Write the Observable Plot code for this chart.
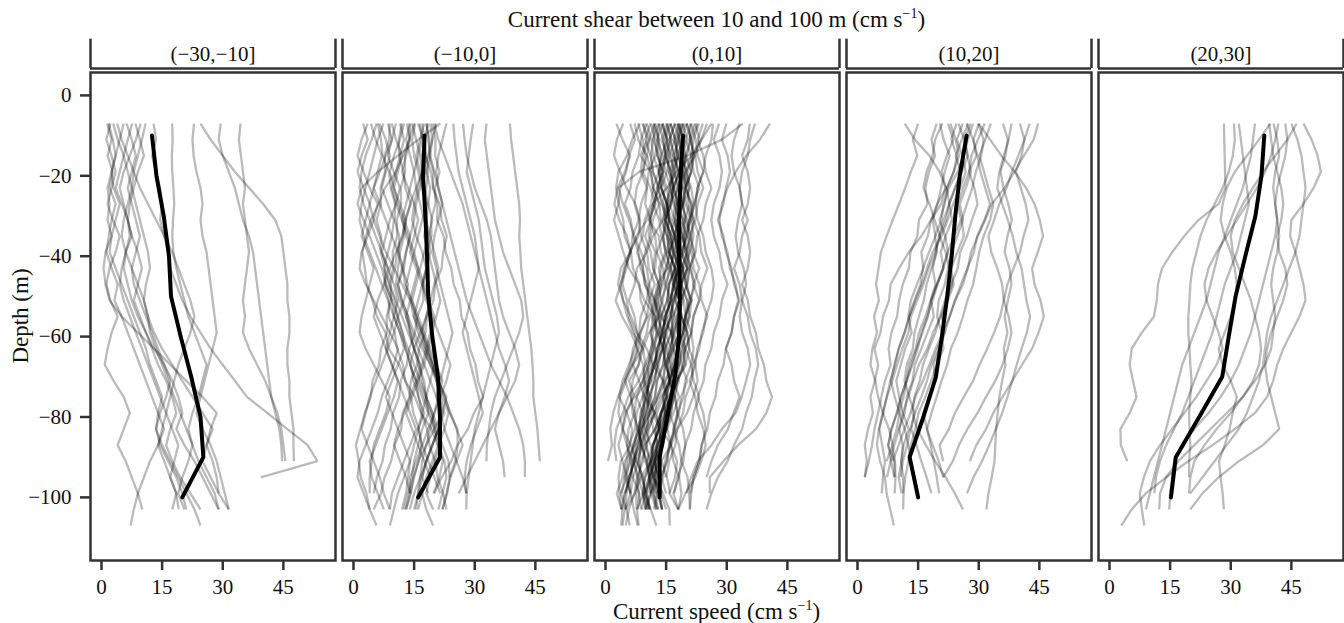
<!DOCTYPE html>
<html><head><meta charset="utf-8">
<script src="https://cdn.jsdelivr.net/npm/d3@7"></script>
<script src="https://cdn.jsdelivr.net/npm/@observablehq/plot@0.6"></script>
<style>
html,body{margin:0;padding:0;background:#fff;}
#wrap{position:relative;width:1344px;height:623px;font-family:"Liberation Serif","Times New Roman",serif;color:#111;overflow:hidden;}
#chart{position:absolute;left:0;top:0;}
.lab{position:absolute;font-size:23px;line-height:23px;white-space:nowrap;}
.sup{font-size:14px;position:relative;top:-9px;}
#title{left:90px;width:1253px;text-align:center;top:7.7px;}
#xlab{left:90px;width:1253px;text-align:center;top:599.7px;}
#ylab{left:20px;top:316px;transform:translate(-50%,-50%) rotate(-90deg);}
</style></head>
<body>
<div id="wrap">
<div id="chart"></div>
<div class="lab" id="title">Current shear between 10 and 100 m (cm s<span class="sup">−1</span>)</div>
<div class="lab" id="xlab">Current speed (cm s<span class="sup">−1</span>)</div>
<div class="lab" id="ylab">Depth (m)</div>
</div>
<script>
// Facet categories (current shear bins)
const shearBins = ["(−30,−10]", "(−10,0]", "(0,10]", "(10,20]", "(20,30]"];
// Depth levels of the individual profiles (m)
const depthLevels = [-7,-11,-15,-19,-23,-27,-31,-35,-39,-43,-47,-51,-55,-59,-63,-67,-71,-75,-79,-83,-87,-91,-95,-99,-103,-107];
// Depth levels of the mean profiles (m)
const meanDepths = [-10,-20,-30,-40,-50,-60,-70,-80,-90,-100];
// Tick values
const xTicks = [0, 15, 30, 45];
const yTicks = [-100, -80, -60, -40, -20, 0];

// Mean profiles (cm/s)
const mean_m30_m10 = [12.5,13.6,15.4,16.7,17.2,19.6,22.2,24.5,25.2,20.0];
const mean_m10_0   = [17.6,17.2,17.8,18.2,18.5,19.5,20.9,21.4,21.4,16.0];
const mean_0_10    = [19.2,18.6,18.2,18.2,18.4,18.2,17.2,15.3,13.4,13.4];
const mean_10_20   = [27.0,25.3,24.2,23.3,22.2,20.9,19.4,16.3,12.9,15.0];
const mean_20_30   = [38.3,37.6,36.1,33.6,31.2,29.5,27.9,22.2,16.4,15.2];

// Individual profiles (cm/s, from -7 m downward every 4 m)
const prof_m30_m10 = [
[1.4,2.5,1.5,2.8,2.0,3.5,2.5,1.8,1.2,2.5,4.0,3.2,5.0,6.5,8.0,9.5,11,12.5,14,15.5,14,12,10.5,9,8,7.2],
[2.2,1.2,2.5,3.5,2.5,1.5,2.8,4.5,3.5,2.0,1.2,2.2,4.0,2.5,1.5,0.8,3,5.5,7,5.5,4,6,7.5,9,10.1],
[2.9,4,5.5,4.5,3.5,5,6.5,7.5,6,5,4.5,5.5,7,8.5,10,11.5,13,14.5,16,15,14,15.5,17,18.5,17.5],
[3.9,5,6.5,8,9.5,11.5,13.5,15.5,17.5,19,20.5,22,23,22,20.5,19,18,17,16,17.5,19,18,17,18.5,19.1],
[5.5,4.5,3.5,2.5,3,4.5,3.5,2.5,2,3.5,5,6.5,8,9.5,11,12,13.5,15,14,13.5,15,17,19,21,23,24.5],
[6.2,7.5,8.5,7.5,6.5,7.5,8.5,9.5,8.5,7.5,8,9.5,11,12.5,14,15.5,17,16,14.5,13.5,14.5,16.5,18.5,20,21],
[7.6,6.5,5.5,6.5,7.5,6.5,5.5,5,6,7.5,9,10.5,11.5,12,13.5,15,16.5,18,19.5,21,22.5,21.5,20,19,20.5],
[8.4,9.5,10.5,9,8,7,6.5,7.5,9,10,9,8,9.5,11,12.5,14,16,17.5,18.5,17,16,17.5,19.5,22,24.5],
[9.7,8.5,7,5.5,4.5,5.5,6.5,7,6,5.5,6.5,7.5,9,11,13,15.5,17.5,19,20,18.5,20.5,23,25,27,29],
[10.9,10,9,8,7.5,8.5,9.5,10.5,11.5,12,11,10.5,11.5,13,15,17.5,20,22.5,25,27.5,26,25,27,29,31.5],
[12.9,13.5,12.5,13.5,14.5,15,14.5,15.5,16.5,17,18.5,20,22,24.5,27,30,33,36,41,46,51,53.4,39.4],
[17.5,17.6,17.4,17.5,17.8,18,17.7,17.5,17.8,18.5,19.5,20.5,21.5,23,24.5,26,25,24,22.5,21.5,22.5,24,26,28,29],
[22.9,22.5,22.8,23.5,24.5,25,24.5,25,26,26.5,27,27.5,28,28.5,27.5,26.5,25.5,24.5,23.5,25,27,28.5,29.5,30.5,31.5],
[24.5,27,30,33,36.5,40,43,44.5,45,45.5,46,46,46.5,46.5,46,46,46.5,46.5,47,47.5,47.5,47.6],
[29.5,29,30,31.5,33,34,35,36.5,37.5,38,38.5,39,39.5,40,40.5,41,41.5,42,43,44,44.5,44.7],
[34.4,34,34.5,35,35.5,35,35.5,36,36.5,36,35.5,35,35.5,35,36.5,38.5,40.5,42,43.5,44.5,45,45.5],
[1.8,2.8,3.5,2.5,1.5,2,1.5,2.5,1,0.5,1,2,5,9,13,17,21,25,28.5,27,26,27.5,28.5,29]
];
const prof_m10_0 = [
[2.4,3.5,2,1,2.5,4,3,2,3.5,5,4,3,2,1.5,3,5,7,9,8,6.5,5,4.5,4,4],
[3.5,2,1,2.5,4,6,5,3.5,2,1.5,3,5,7,9,11,10,8.5,7,6,4.5,3,1.5,1,2.5,4,5.7],
[4.3,5.5,7,6,5,6.5,8,9.5,11,12,13.5,12.5,11,10,8.5,7,5.5,4,3,2,3.5,5,6.5,7.5,9],
[5.7,4.5,3,2,1.5,2.5,4,5.5,7,8.5,7.5,6,5,6.5,8,9.5,11,10,8.5,7,5.5,4,4.5,6,7.5],
[6.4,8,9,8,7,8.5,10,9.5,8.5,7.5,9,10.5,12,13.5,15,16.5,15.5,14,12.5,11,10,11.5,13,14],
[7.4,6,5,4,3,2,1.5,2.5,4,5.5,7,8.5,10,11.5,12.5,11,9.5,8,9.5,11,12.5,14,12.5,11,10,9],
[8.5,9.5,8,6.5,5,4,5,6.5,8,10,12,14,15.5,17,18.5,17.5,16,14.5,13,14.5,16,17.5,19,18,19.7],
[9.5,10.5,12,11,10,11.5,13,12,10.5,9,8,9.5,11,12,13.5,15,16.5,18,19.5,21,19.5,18,16.5,15,13.9],
[10.5,9.5,8.5,10,11.5,10.5,9,8,7,8.5,10,11,10,9,8,9.5,11,12.5,14,15.5,14,12.5,11,9.5,9],
[11.5,12.5,11.5,10.5,9.5,10.5,12,13.5,15,16,15,14,13,14.5,16,17.5,19,20.5,22,21,19.5,18,17,18.5],
[12.5,11.5,10,9,10,11,12.5,14,13,12,11,12,13.5,15,17,19,21,23,22,20,18,16,15,14,13],
[13.2,14,13,12,13.5,15,16,15,14,15.5,17,18.5,20,19,18,17,16,17.5,19,20.5,22,23.5,23.8],
[13.9,13,14,15,14,13,12,13,14.5,16,17.5,19,18,16.5,15,14,15.5,17,18.5,20,21.5,20,18.5,17,16],
[14.5,15.5,16.5,17,16,15,14.5,15.5,17,18,17,16,15,16,17.5,19,20.5,22,23.5,22.5,21,19.5,18,17,18,19.7],
[15.3,14.5,15,16,17,18,17,16,15,14,13,14.5,16,17.5,19,20.5,22,21,20,19,18,17,16.5,16,15.5],
[16.4,17,16,15,15.5,16.5,17.5,18.5,19,18,17,18,19.5,21,22.5,24,23,21.5,20,18.5,17,15.5,14,13.9],
[17,17.5,18,18.5,18,17.5,18,19,20,21,20,19,18,17,18,19.5,21,22.5,24,25.5,27,25.5,24,23,22],
[17.5,16.5,15.5,16.5,17.5,18.5,19.5,18.5,17.5,16.5,15.5,14.5,15.5,17,18.5,20,19,18,17,16,17,18.5,20,21.5],
[18.1,18.5,19,20,21,22,21,20,19.5,20.5,21.5,22.5,23.5,24.5,23.5,22.5,21.5,20.5,21.5,22.5,24,25.5,27,27.9],
[18.5,17.5,17,18,19,18.5,18,17.5,18.5,19.5,20.5,21.5,20.5,19.5,18.5,19.5,20.5,21.5,22.5,21,19.5,18,17,16,15],
[19,19.5,18.5,17,15.5,14,13,12.5,11.5,11,10.5,11.5,13,14,15,16,17.5,18,18.5,17,16,15,14.5,13.5,12.5],
[20.5,19.5,19,18,16.5,15.5,15,14,13,12.5,11,12,13.5,14,15,16.5,17,18,19.5,20,21,22.5,23,22,21],
[21.5,16,11,6,2,1,2.5,4,5.5,7,8,9.5,10,11.5,13,14,15.5,16,17.5,16,15,14,13.5,13,12],
[24.7,25,25.5,26,27,28,29,30,30.5,31,30,29,28,27,28,29,30,31,32,30.5,29,28,27.5,27.9],
[27.1,27.5,28,29,30,31.5,33,34,34.5,35,35.5,36,37,38.5,40,41,40,38,36,34,32,30,28,26],
[29.6,29,28.5,28,29,30,31,31.5,32,32.5,33.5,34.5,35.5,36,35,34,33,32,31,30,29.5,29,28.5,28,27.9],
[32.9,32.5,33,33.5,34,34.5,35,36,37,38.5,40,41.5,42,41,39.5,38,36.5,35,34,33.5,33,32.9],
[38.7,39,39.5,40,40.5,41,41.2,41,41.3,41.5,42,42.5,43,43.5,44,44.3,44.5,44.5,45,45.5,45.8,46.1],
[23,22,21,20.5,21,22,23,24,25,26,27,28,29.5,31,32.5,34,36,38,39.5,41,42,42.4,42.4],
[20,21,22.5,24,25.5,27,28,29,30,31,32,33,34,35,36,37.5,38.5,37.4,36,35,36,37,37.4],
[15,13.8,12.2,10.5,7.8,6.2,4.3,3.1,2.2,2.8,3.3,4.7,5.8,7.9,8.7,11.3,12.8,15.2,16.7,19.3,20.8,22.1,21.2,19.8],
[12,11.2,11.3,12.4,12.8,14.2,12.7,12.2,10.8,10.3,9.2,9.3,8.2,8.3,6.8,6.3,4.7,4.3,2.8,1.7,0.6,1.3,1.8,3.2,4],
[16,17.3,17.8,19.2,19.7,21.3,21.8,23.1,22.2,21.8,20.2,19.8,18.2,17.8,16.2,15.8,14.2,13.8,12.2,11.8,10.2,9.3,7.7,6.8,5],
[18,18.8,18.7,19.8,19.7,20.8,20.7,22.3,22.8,24.2,24.8,26.3,26.7,28.2,28.8,30.2,30.8,32.1,29.8,28.3,25.7,24.2,21.8,20],
[19.5,20.3,20.2,21.3,20.2,20.3,19.2,19.3,18.2,18.3,17.2,17.3,15.8,15.2,13.8,13.2,11.7,11.3,9.8,9.2,7.8,7.2,5.8,5],
[14,13.8,12.7,12.8,11.7,11.8,10.7,10.8,9.7,9.8,8.7,10.2,10.8,12.2,12.8,14.2,14.8,16.2,16.8,18.2,18.8,20.2,20.8,22.2,23],
[9,8.8,7.7,7.8,6.7,6.8,5.7,6.8,6.7,7.8,7.7,8.8,8.7,10.2,10.8,12.2,12.8,14.2,14.8,16.2,16.8,16.2,14.8,14.2,13],
[6,6.8,7.2,8.8,9.2,10.3,10.2,11.3,11.2,12.3,12.7,14.2,14.8,16.7,17.8,19.7,20.8,22.7,23.8,25.7,25.8,25.2,23.8,23.2,22]
];
const prof_0_10 = [
[2.7,4.2,6.1,4.8,3.0,2.2,3.4,5.3,6.2,4.6,3.8,2.5,4.1,6.3,7.9,6.6,4.7,3.1,1.9,1.2,1.6,0.6],
[4.4,2.8,2.1,3.6,5.2,7.4,8.6,8.1,5.9,5.2,3.7,4.3,5.4,6.8,9.3,9.9,8.2,5.6,4.3,2.7,2.2,2.7],
[8.5,6.6,5.3,3.2,2.6,3.3,4.4,4.7,6.3,6.8,8.4,8.7,10.2,8.6,7.3,5.8,4.2,3.4,5.3,6.6,6.1,3.8,3.2,3.5,3.9],
[6.1,7.3,5.8,5.1,3.7,3.2,2.1,3.3,4.4,5.8,8.2,9.6,12.3,12.7,14.2,11.8,10.3,7.6,7.2,5.7,5.3,6.2,6.8,8.3,8.0],
[7.2,8.1,10.3,9.2,11.1,12.4,10.8,13.2,13.7,15.3,12.8,12.2,13.3,10.8,9.3,8.2,5.8,7.1,4.8,4.2,5.3,6.8,8.2,7.6,7.7],
[26.2,23.8,21.3,17.6,15.2,11.8,10.2,7.7,6.1,3.8,3.1,4.4,6.3,7.8,9.2,6.8,5.1,3.6,3.2,4.3,6.2,7.7,9.3,9.8,10.6],
[8.1,9.2,9.8,9.3,7.7,7.2,8.3,8.8,10.3,10.7,12.2,10.8,10.3,8.7,8.2,6.8,8.3,9.7,12.2,10.6,9.3,7.8,9.2,9.8,11.2,12.6],
[9.2,10.3,8.7,11.2,11.8,13.3,11.7,11.2,9.8,9.2,9.7,11.3,11.8,13.2,14.3,14.8,16.2,13.7,12.2,9.8,8.3,6.7,6.2,4.8,4.2,3.9],
[10.1,8.8,8.2,6.7,6.2,4.8,6.3,6.8,8.2,8.7,10.3,10.8,12.3,12.6,12.2,10.7,9.3,6.8,5.2,4.3,3.2,4.2,5.3,6.1],
[11.2,12.3,12.8,14.3,12.7,12.2,10.8,12.3,12.7,14.2,14.8,16.3,14.7,14.2,12.8,12.3,10.7,10.2,8.8,8.3,8.8,10.2,10.8,12.3,13.0],
[12.1,10.8,10.3,11.2,11.8,13.3,13.7,15.2,15.8,17.2,15.7,15.3,13.8,13.2,11.7,11.3,9.8,9.2,7.7,7.3,5.8,5.2,4.8,6.2],
[12.3,13.2,13.7,13.2,11.8,11.3,9.7,9.2,7.8,9.3,9.8,12.2,13.7,16.3,17.8,17.2,14.8,13.2,10.8,9.2,7.8,7.2,5.8,5.2,4.9],
[13.1,11.8,11.2,11.7,13.2,13.8,15.3,15.7,17.2,17.8,16.8,16.2,14.7,14.3,12.8,12.2,10.7,10.3,12.2,13.8,16.2,17.7,17.2,15.8,18.0],
[13.2,14.3,14.8,16.2,16.7,16.3,14.8,14.2,12.7,12.3,10.8,10.2,8.7,8.3,6.8,6.2,4.8,6.3,6.7,8.2,8.8,10.3,11.8,14.2,15.8,15.9],
[14.1,15.3,13.8,13.2,13.8,15.2,15.7,17.3,17.8,19.2,19.8,21.3,19.7,19.2,17.7,17.3,15.8,15.2,13.7,13.2,11.8,11.2,9.7,9.3,10.6],
[14.2,12.8,12.3,10.7,10.2,8.8,8.2,6.7,6.3,4.8,4.2,5.3,5.8,7.2,7.8,9.3,9.7,11.2,11.8,13.3,13.7,13.2,11.8,12.6],
[15.1,16.2,16.8,18.3,16.8,16.2,14.8,16.3,16.7,18.2,18.8,18.2,16.7,16.3,14.8,14.2,12.7,12.3,10.8,10.2,8.7,8.3,8.8,10.2,11.0],
[15.2,13.8,15.3,15.7,17.2,17.8,19.3,19.7,19.2,17.8,17.2,15.8,17.2,17.7,19.2,19.8,17.7,16.3,13.8,12.2,9.7,9.3,7.8,7.2,5.8,5.0],
[16.1,17.2,15.8,15.2,13.8,15.3,15.8,17.2,17.7,17.2,15.8,15.3,13.7,13.2,14.3,14.8,16.2,16.7,16.2,14.8,14.3,12.7,12.2,13.3,14.0],
[16.2,14.8,16.3,16.8,18.2,18.7,20.3,20.8,22.1,20.8,20.2,18.7,18.3,16.7,16.2,14.8,14.3,12.8,12.2,10.7,10.3,8.8,8.2,9.2,10.0],
[17.1,18.2,18.8,18.3,16.8,16.2,14.8,14.3,14.8,16.2,16.7,18.3,18.8,20.2,18.7,18.2,16.8,16.2,14.7,14.3,12.8,12.2,10.8,10.0],
[17.2,15.8,15.3,13.7,13.2,11.8,13.3,13.8,15.2,15.7,17.2,15.8,15.2,13.7,13.3,11.8,11.2,9.7,9.3,7.8,7.2,5.7,5.3,3.8,5.2,6.0],
[18.1,19.2,19.8,21.2,19.8,19.2,17.7,17.3,15.8,17.2,17.7,19.3,19.8,21.2,21.8,21.2,19.7,19.3,17.8,17.2,15.7,15.3,13.8,13.2,14.0],
[18.2,16.8,18.3,18.7,20.2,20.8,19.7,19.2,17.8,17.2,15.7,15.3,16.2,16.8,18.3,18.8,20.2,18.7,18.2,16.8,18.2,18.8,20.3,20.7,20.9],
[17.8,18.3,16.7,18.2,18.8,17.7,17.2,18.3,18.8,20.2,18.7,18.2,18.8,20.3,20.7,19.8,17.7,16.2,13.8,12.3,9.8,11.2,11.8,13.3,14.0],
[19.1,20.2,18.8,18.2,16.7,18.3,18.8,20.2,18.7,18.2,16.8,16.2,14.8,16.3,16.8,18.2,16.7,16.3,14.8,14.2,12.7,12.3,13.2,14.0],
[19.2,17.8,17.3,15.7,16.8,17.7,19.2,17.8,17.3,15.7,15.2,13.8,13.2,11.7,11.3,9.8,9.2,7.7,9.2,9.8,11.2,11.8,13.3,13.7,15.0],
[20.1,21.2,21.8,21.2,19.8,19.2,17.8,19.2,19.8,21.3,21.7,23.2,21.8,21.2,19.7,19.3,17.8,17.2,15.7,15.3,16.2,16.8,18.2,18.8,18.0],
[20.2,18.8,18.2,16.7,16.3,14.8,14.2,15.3,15.7,17.2,17.8,16.7,16.2,14.8,14.2,12.7,12.3,10.8,10.2,8.7,8.3,6.8,6.2,4.7,4.0],
[21.1,19.8,21.2,21.8,23.2,21.8,21.2,19.7,19.3,17.8,17.2,18.3,18.8,20.2,20.7,22.2,22.8,21.7,20.2,17.8,16.2,13.8,13.2,11.8,12.6],
[21.2,22.3,22.8,24.2,22.8,22.2,20.8,20.2,21.3,21.8,23.2,23.8,25.2,23.8,23.2,21.7,21.3,19.8,19.2,17.7,17.3,15.8,15.0],
[22.1,20.8,20.2,18.7,18.3,19.2,19.8,21.2,21.7,23.2,21.8,21.2,19.7,19.3,17.8,17.2,15.7,17.2,17.8,19.2,19.8,18.7,18.2,16.8,18.0],
[22.2,23.3,21.8,21.2,19.8,21.2,21.8,23.2,23.7,25.2,23.8,23.2,21.7,21.3,19.8,21.2,21.8,23.2,21.8,21.2,19.7,19.3,17.8,17.0],
[23.1,21.8,21.2,19.8,19.2,17.7,17.3,15.8,15.2,13.7,13.3,11.8,13.2,13.8,15.3,15.7,17.2,15.8,15.2,13.7,13.3,11.8,11.2,9.7,9.0],
[24.1,22.8,24.2,24.8,26.2,24.8,24.2,22.7,22.3,20.8,20.2,18.7,18.3,16.8,16.2,14.7,14.3,15.2,15.8,17.2,15.8,15.2,13.7,13.0],
[25.1,23.7,22.2,19.8,18.2,15.7,14.2,11.8,10.2,7.8,7.2,5.8,7.2,7.8,10.2,11.8,14.2,12.8,11.2,8.8,7.2,4.8,4.2,2.8,4.0],
[26.6,26.2,24.8,24.2,22.7,22.3,22.8,24.2,24.8,26.2,26.8,26.2,24.8,24.2,22.7,22.3,20.8,22.2,22.8,24.2,24.8,23.7,22.2,19.8,18.0],
[28.1,26.8,28.2,28.8,28.2,26.8,26.2,26.8,28.2,28.8,30.2,28.8,28.2,26.8,26.2,24.7,24.3,22.8,24.2,24.8,23.8,23.2,21.8,21.0],
[29.9,28.8,30.2,30.8,29.8,29.2,27.8,29.2,29.8,31.2,31.8,33.2,31.8,31.2,29.8,31.2,31.8,33.2,31.7,30.3,27.8,26.2,25.0],
[33.2,31.8,31.2,31.8,33.2,33.8,32.8,32.2,32.8,34.2,34.8,33.8,33.2,33.8,35.2,35.8,34.8,33.7,32.2,28.8,26.2,22.8,21.2,20.0],
[35.7,35.2,33.8,35.2,35.8,35.2,33.8,35.2,35.8,35.2,33.8,35.2,35.8,37.2,37.8,39.2,39.8,41.2,39.8,37.2,32.8,29.2,25.8,25.8],
[37.0,35.8,35.2,33.8,33.2,33.8,35.2,33.8,33.2,31.8,33.2,33.8,35.2,35.8,37.2,37.8,36.8,36.2,34.8,33.8,31.8,30.2,27.8,26.2,25.0],
[40.7,38.2,34.8,32.2,30.2,28.8,28.2,28.8,30.2,30.8,32.2,32.8,31.8,31.2,29.8,29.2,27.8,27.2,25.8,25.2,23.8,23.2,21.8,21.2,20.9],
[34.0,28.8,20.2,8.3,3.2,4.3,5.8,7.2,8.8,10.2,10.8,12.2,10.8,10.2,8.8,8.2,6.7,6.3,7.2,7.8,9.2,9.8,11.2,11.8,13.0],
[10.2,11.3,11.8,13.2,13.8,15.2,15.8,17.2,17.8,19.2,17.8,17.2,15.7,15.3,13.8,13.2,11.7,11.3,9.8,9.2,7.7,7.3,5.8,5.0],
[11.1,9.8,11.2,11.8,13.2,11.8,11.2,9.8,11.2,11.8,13.2,13.8,15.2,13.8,13.2,11.8,11.2,9.7,11.2,11.8,13.2,13.8,15.2,16.0],
[12.2,11.8,13.2,13.8,15.2,15.8,17.2,17.8,16.8,16.2,14.8,14.2,12.8,14.2,14.8,16.2,16.8,18.2,16.8,15.2,12.8,11.2,8.8,7.2,5.0],
[13.3,12.8,14.2,14.8,16.2,16.8,18.2,18.8,20.2,18.8,18.2,16.8,16.2,14.7,14.3,12.8,12.2,10.7,10.3,8.8,10.2,10.8,12.0],
[14.2,15.3,15.8,17.2,17.8,19.2,17.8,17.2,15.8,15.2,13.7,13.3,11.8,11.2,12.3,12.8,14.2,14.8,13.8,13.2,11.7,11.3,9.8,9.2,10.0],
[15.2,16.3,14.8,14.2,12.8,14.2,14.8,16.2,16.8,18.2,18.8,20.2,20.8,19.8,19.2,17.8,17.2,15.7,15.3,13.8,13.2,11.7,11.3,9.8,11.0],
[16.1,17.3,17.8,19.2,19.8,18.8,18.2,16.8,16.2,14.8,14.2,12.8,14.2,14.8,16.2,16.8,18.2,16.8,16.2,14.8,14.2,12.7,12.3,11.0],
[17.2,15.8,17.2,17.8,19.2,19.8,21.2,21.8,20.8,20.2,18.8,18.2,16.8,16.2,14.7,14.3,12.8,12.2,10.7,10.3,8.8,8.2,6.8,6.2,7.0,8.0],
[18.3,19.2,17.8,17.2,15.8,15.2,16.3,16.8,18.2,18.8,20.2,20.8,19.8,19.2,17.7,17.3,15.8,15.2,13.7,13.3,11.8,11.2,12.3,12.8,14.0],
[19.1,17.8,19.2,19.8,21.2,21.8,20.8,20.2,18.8,18.2,16.7,16.3,14.8,14.2,12.7,12.3,10.8,10.2,8.7,8.3,6.8,6.2,4.7,4.0],
[20.1,21.2,19.8,19.2,17.8,17.2,18.3,18.8,20.2,20.8,22.2,20.8,20.2,18.8,18.2,16.7,16.3,14.8,14.2,12.7,12.3,13.2,13.8,15.0],
[21.1,20.8,22.2,22.8,24.2,22.8,22.2,20.8,20.2,18.8,18.2,16.7,16.3,14.8,14.2,15.3,15.8,17.2,17.8,16.8,16.2,14.7,14.3,12.8,12.0],
[9.3,10.8,9.2,8.7,10.3,9.8,11.2,10.7,12.3,11.8,13.2,12.7,11.3,12.8,11.2,10.7,9.3,10.8,9.2,8.3,6.8,7.2,5.8,6.2,4.8,4.2],
[13.8,15.2,14.7,16.3,15.8,17.2,16.7,18.3,17.8,19.2,18.7,17.3,18.8,17.2,15.7,16.3,14.8,15.2,13.7,12.3,12.8,11.2,10.7,11.3],
[17.8,19.3,18.7,20.2,19.8,21.3,20.7,19.2,20.8,19.3,18.7,20.2,19.8,18.2,16.8,17.3,15.7,14.2,14.8,13.2,11.7,12.3,10.8,11.2,9.7],
[19.7,18.3,19.8,19.2,20.7,20.2,21.8,21.2,19.7,20.3,18.8,19.3,17.7,18.2,16.8,15.2,15.8,14.3,12.7,13.2,11.8,10.2,10.8,9.3,7.8,8.2],
[15.8,14.3,14.8,13.2,14.7,14.2,15.8,15.3,16.8,16.2,17.8,17.2,18.7,18.2,19.8,19.2,17.8,16.2,14.7,15.2,13.8,12.2,12.8,11.3,10.0],
[22.8,21.2,21.7,20.3,20.8,19.2,19.7,18.3,18.8,20.2,19.7,21.3,20.8,19.2,19.7,18.3,17.8,16.2,15.7,14.3,13.8,12.2,11.7,10.3,11.0],
[18.7,17.2,17.8,16.3,16.8,15.2,15.7,14.3,14.8,13.2,13.8,12.3,12.7,11.2,11.8,10.3,10.8,9.2,9.8,8.3,8.8,7.2,7.8,8.3,8.8],
[11.8,13.2,12.8,14.3,13.7,15.2,14.8,16.3,15.7,17.2,16.8,18.3,17.7,16.2,16.8,15.2,15.8,14.2,14.8,13.2,13.8,12.2,12.7,11.2,12.6]
];
const prof_10_20 = [
[11.7,14.2,17.8,20.3,21.8,20.7,18.2,15.8,12.7,10.3,8.2,7.8,6.3,5.7,4.2,5.1,4.3,3.2,3.8,2.6,1.8,2.3,1.8],
[15.0,13.7,14.8,13.2,11.8,10.3,8.7,7.2,5.8,5.2,4.6,5.3,4.1,4.8,3.7,3.2,4.4,5.1,6.3,7.8,8.7,7.2],
[19.6,18.3,19.2,17.7,16.8,17.3,15.2,14.8,13.1,12.7,11.2,10.3,9.8,8.4,7.7,8.2,6.8,5.9,5.1,4.2,3.6,2.8,1.8],
[20.4,21.3,22.8,21.6,20.7,19.8,18.6,19.3,17.7,16.2,15.6,14.1,12.8,11.7,10.2,9.1,8.3,9.2,10.4,9.7,8.6,9.3,9.4,9.2],
[22.4,23.7,22.1,20.8,21.9,19.7,18.2,17.4,15.8,16.3,14.7,13.2,12.6,13.4,11.8,10.7,9.6,10.3,11.2,12.7,11.4,10.9,10.2,10.9],
[24.5,23.2,24.6,23.8,22.1,22.7,21.3,20.2,19.4,18.6,19.3,18.1,16.8,15.2,14.4,12.8,12.1,10.7,9.8,8.4,7.6,9.1,9.2],
[27.4,25.8,24.3,25.6,24.2,22.7,23.4,21.8,20.6,21.3,19.7,18.2,18.9,17.3,15.8,14.2,13.6,12.2,11.7,10.3,11.2,10.8,11.3,11.3],
[28.6,27.3,26.2,24.8,22.6,21.3,20.8,19.2,19.7,18.3,17.1,16.4,15.2,14.1,13.7,12.2,11.6,12.8,14.1,13.3,14.6,15.8,17.1,18.3],
[29.9,31.2,30.6,29.3,28.4,27.1,25.8,26.3,24.7,23.2,23.8,22.4,20.9,21.6,20.3,18.8,19.2,17.6,16.3,17.2,18.6,20.1,21.2],
[31.5,29.8,28.2,27.6,28.9,29.7,28.3,27.1,25.4,24.8,23.2,21.6,20.4,19.3,17.7,16.2,15.4,14.1,13.6,14.8,16.9,19.2,21.8,24.1,26.1],
[36.0,37.2,36.6,35.4,36.1,37.3,38.2,37.1,36.4,37.6,38.1,37.2,36.4,37.1,36.2,36.6,35.8,35.1,34.7,34.3,34.1,33.9,33.2,32.4,31.9],
[38.1,37.4,36.2,35.1,34.6,35.8,37.2,38.4,39.3,40.6,41.2,41.8,42.7,41.9,40.6,39.4,38.3,37.1,35.8,34.2,32.6,30.8,28.7,27.1],
[42.6,41.3,39.8,38.2,36.9,35.1,33.8,32.4,33.1,34.6,35.8,36.2,37.4,38.1,37.2,35.9,34.1,31.8,29.7,27.2,25.1,23.6,21.2],
[44.7,43.6,41.2,38.8,36.4,33.2,31.6,29.8,28.1,27.3,26.1,24.2,22.8,21.1,19.3,17.8,16.2,14.3,13.1,11.6,10.2,8.7],
[30.0,32.8,35.6,38.9,41.7,43.8,45.1,45.9,44.6,43.2,43.8,45.3,46.1,44.8,43.2,40.7,38.3,35.9,33.6,31.8,29.4,27.8],
[26.0,24.6,25.9,26.8,25.4,23.7,22.3,20.8,18.6,17.2,15.9,14.3,12.8,11.6,10.2,9.3,8.1,7.2,6.4,5.3,4.8,5.6,6.8,7.2,8.1,9.0],
[23.0,24.3,25.1,23.8,22.2,21.6,20.3,21.7,22.4,21.2,19.8,18.6,17.3,15.8,14.9,13.6,12.2,11.4,10.3,11.7,12.6,13.2,14.1,15.0],
[21.0,19.2,18.6,17.1,16.3,17.8,19.1,20.4,19.2,17.6,16.3,14.8,13.2,12.6,11.1,9.8,8.6,7.3,6.2,5.4,6.1,6.8,6.3,6.0],
[25.0,26.4,27.2,28.1,26.8,25.3,26.1,24.7,23.2,22.4,21.6,20.1,19.7,20.8,21.3,19.6,18.2,16.8,15.1,14.3,13.2,12.6,11.8,11.4,11.3],
[28.0,26.6,27.3,25.8,24.1,22.7,21.9,20.3,21.8,22.7,23.4,22.1,20.6,18.7,17.3,15.2,13.8,12.6,11.2,10.3,9.1,8.2,7.3],
[30.0,28.7,29.4,27.6,26.1,24.8,25.6,23.9,22.3,21.1,19.6,18.2,17.4,16.1,14.6,13.3,12.1,10.8,9.7,8.4,7.6,8.3,9.1],
[33.0,31.6,30.2,31.3,32.4,33.6,32.8,31.2,30.1,29.4,28.6,27.2,26.1,24.8,23.1,22.2,20.8,19.6,18.3,17.2,18.1,18.9,19.6,20.2],
[27.0,28.6,29.7,30.4,31.6,32.8,31.4,29.6,28.8,27.2,25.6,24.1,22.8,21.6,19.8,18.3,17.2,15.8,14.2,13.1,12.3,11.2,10.7],
[40.2,41.3,40.6,39.2,40.4,41.6,42.3,41.1,40.2,38.6,37.1,36.2,35.3,33.8,32.1,30.2,28.6,26.3,24.1,22.6,20.3,21.2]
];
const prof_20_30 = [
[28.3,28.4,28.5,28.6,28.7,27,22,18.5,15.5,13,12,11.7,11,8,5.5,5,5.8,6.7,5,2.7,2.8,4.4],
[30.8,31,30.5,29.5,28,26,24,22.5,21.5,20.5,20,19.8,19.5,19.5,19.8,20,20.3,20,19.7,19.8,20,19.7,19.7],
[32,32.5,33,33.5,34,34.5,33.5,32.5,31.5,30,28.5,27.5,26.5,25.5,24,22.5,21,19.5,18,16,14,12.5,11.5,11.1],
[39.8,37,34,31,29,28,27.5,28.5,30,31,31.5,31,30,28.5,27,28,30,31.5,30.5,29.7,28.5,27.1,27.5,28,28.3],
[40.6,41.5,42,41,40.5,41,41.5,41,40,39,38,37,36,35,33.5,32,30,27.5,24.5,21,18,16,15.5,15,14.8],
[41.8,41,40,38.5,36.5,34,31.5,29,26.5,24.5,23.5,24,25.5,27,28,26.5,24,21.5,18.5,15.5,12.5,10,8.5,7.5,8,8.6],
[43.5,44,43.5,42.5,41.5,41,41.5,42,41.5,40.5,40,40.5,41,40.5,40,38.5,36,33,29,25,21,17,14,12.5,12.3],
[46.3,44,41,38,35.5,33,31,30,30.5,32,33.5,35,36,37,37.5,37,35.5,33,30,26.5,23.5,21,20,19.7],
[48,50,51.5,52.3,50.5,48,45,44.7,46,47,48,48.5,47,45,43,41.5,40.5,39,36,31,25.5,19.5,14,9,5.5,2.9],
[39.5,40,40.5,41.5,42.5,43,42.5,41.5,42,43.5,44,43,41.5,40,39,38.5,39,40,41,42,38,32,27,23,20],
[45,46.5,47.5,48,48.5,48,47.5,47,46,44.5,43,41.5,40,39,38.5,38,37,35.5,34,32,29,26,23,20],
[36,35.5,35,34,33,31.5,30,28.5,27,26,25,24,22.5,21,19.5,18,17,16,15,14,13,12,11,10,9]
];

const allProfiles = [prof_m30_m10, prof_m10_0, prof_0_10, prof_10_20, prof_20_30];
const allMeans = [mean_m30_m10, mean_m10_0, mean_0_10, mean_10_20, mean_20_30];

const profileRows = [];
allProfiles.forEach((list, i) => list.forEach((p, j) => p.forEach((v, k) => {
  if (k < depthLevels.length) profileRows.push({bin: shearBins[i], id: i + "-" + j, speed: v, depth: depthLevels[k]});
})));
const meanRows = [];
allMeans.forEach((m, i) => m.forEach((v, k) => meanRows.push({bin: shearBins[i], speed: v, depth: meanDepths[k]})));

const xDomain = [-2.72, 57.9];
const yDomain = [-115.7, 5.7];
// strip (facet header) extents, in depth units above the panel
const stripBottom = 6.7, stripTop = 14.0, stripLabelY = 10.2;
const ink = "#333";
const minusFmt = d => d < 0 ? "\u2212" + Math.abs(d) : String(d);

const chart = Plot.plot({
  width: 1344, height: 623,
  marginLeft: 90, marginRight: 1, marginTop: 72, marginBottom: 63,
  style: {fontFamily: "'Liberation Serif','Times New Roman',serif", fontSize: "21px", color: "#111", background: "white"},
  fx: {domain: shearBins, paddingInner: 7 / 252, paddingOuter: 0, round: false, axis: null},
  x: {domain: xDomain},
  y: {domain: yDomain},
  marks: [
    Plot.frame({stroke: ink, strokeWidth: 2.5}),
    Plot.ruleY([stripBottom], {stroke: ink, strokeWidth: 2.5}),
    Plot.ruleX(xDomain, {y1: stripBottom, y2: stripTop, stroke: ink, strokeWidth: 2.5}),
    Plot.text(shearBins, {fx: d => d, x: (xDomain[0] + xDomain[1]) / 2, y: stripLabelY, text: d => d, fontSize: 21, fill: "#111"}),
    Plot.line(profileRows, {fx: "bin", x: "speed", y: "depth", z: "id", stroke: "black", strokeOpacity: 0.27, strokeWidth: 2.3, strokeLinejoin: "miter", strokeLinecap: "butt"}),
    Plot.line(meanRows, {fx: "bin", x: "speed", y: "depth", stroke: "black", strokeWidth: 4}),
    Plot.axisX({ticks: xTicks, tickSize: 10, tickPadding: 9, stroke: ink, strokeWidth: 2.5, fontSize: 21, fill: "#111", label: null, tickFormat: d => String(d)}),
    Plot.axisY({ticks: yTicks, tickSize: 10, tickPadding: 9, stroke: ink, strokeWidth: 2.5, fontSize: 21, fill: "#111", label: null, tickFormat: minusFmt})
  ]
});
document.getElementById("chart").appendChild(chart);
</script>
</body></html>
